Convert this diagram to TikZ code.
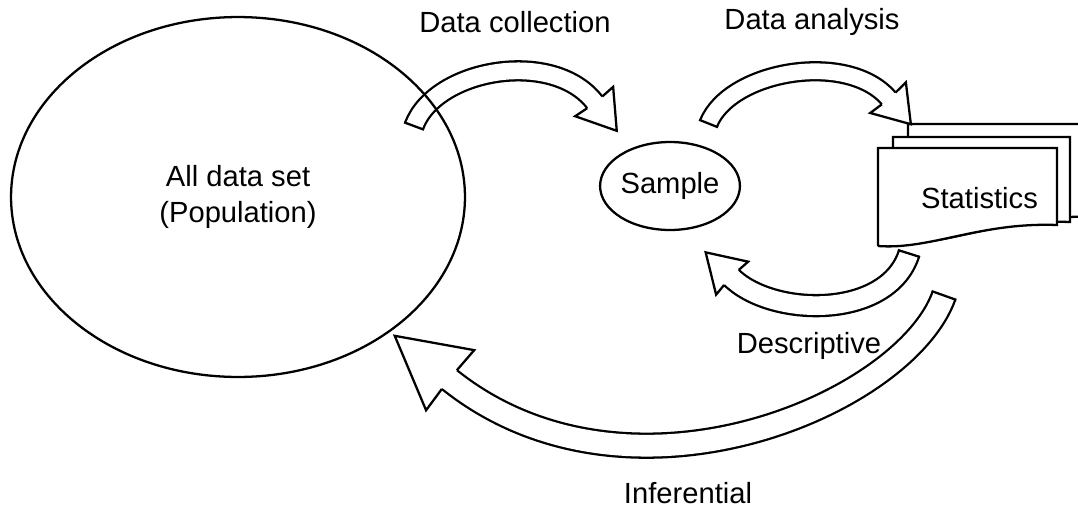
\documentclass[tikz,border=0pt]{standalone}
\usepackage{fontspec}
\setmainfont{Liberation Sans}
\usetikzlibrary{shapes.geometric,decorations.markings}

\tikzset{
  % wide hollow arrow: half width, head length, head half width (px)
  hollow/.style n args={3}{
    preaction={draw, double=white, double distance={(2*#1-2.3)*0.02cm}},
    postaction={decorate, decoration={markings,
      mark=at position 0 with {\draw[line cap=rect] (0,-#1) -- (0,#1);},
      mark=at position 0.99 with {\draw[fill=white, line join=miter]
        (0,#1) -- (-1,#3) -- (#2,0) -- (-1,-#3) -- (0,-#1);}}}},
  txt/.style={font=\fontsize{16.6}{20}\selectfont},
  lbl/.style={txt, anchor=base}
}

\begin{document}
\begin{tikzpicture}[x=0.02cm, y=-0.02cm, line width=1.3pt]
    \useasboundingbox (0,0) rectangle (1078,508);
    % stack of sheets
    \foreach \l/\t/\r/\b in {908/124/1092/217, 893/137/1070/222, 878/148/1057/225}
      \draw[fill=white] (\l,\b+21) -- (\l,\t) -- (\r,\t) -- (\r,\b)
        .. controls (\r-77,\b-3) and (\l+52,\b+25) .. (\l,\b+21);
    \node[lbl] (stats) at (979.5,208) {Statistics};

    \coordinate (collectA) at (414,126);
    \coordinate (collectB) at (596,104);
    \coordinate (analysisA) at (708.5,123.5);
    \coordinate (analysisB) at (890,100);
    \coordinate (descrA) at (909,253.5);
    \coordinate (descrB) at (730,276);
    \coordinate (inferA) at (944,295.5);
    \coordinate (inferB) at (445,376);

    \path[hollow={9.5}{36}{24}] (collectA) .. controls (435.5,68) and (555.5,48) .. (collectB);
    \path[hollow={9}{34}{23.5}] (analysisA) .. controls (730,70) and (850,50) .. (analysisB);
    \path[hollow={10.5}{36}{23}] (descrA) .. controls (888,320) and (770,317.6) .. (descrB);
    \path[hollow={12}{70}{38.5}] (inferA) .. controls (905,405) and (624,525) .. (inferB);

    \node[ellipse, draw, minimum width=9.08cm, minimum height=7.2cm, inner sep=0pt,
      align=center, txt] (pop) at (238,197) {All data set\\(Population)};
    \node[ellipse, draw, minimum width=2.2cm, minimum height=1.76cm, inner sep=0pt,
      txt] (sample) at (670,186) {Sample};

    \node[lbl] (collect) at (515,32) {Data collection};
    \node[lbl] (analysis) at (812,29) {Data analysis};
    \node[lbl] (descr) at (809,353) {Descriptive};
    \node[lbl] (infer) at (688,503) {Inferential};
  \end{tikzpicture}
\end{document}
